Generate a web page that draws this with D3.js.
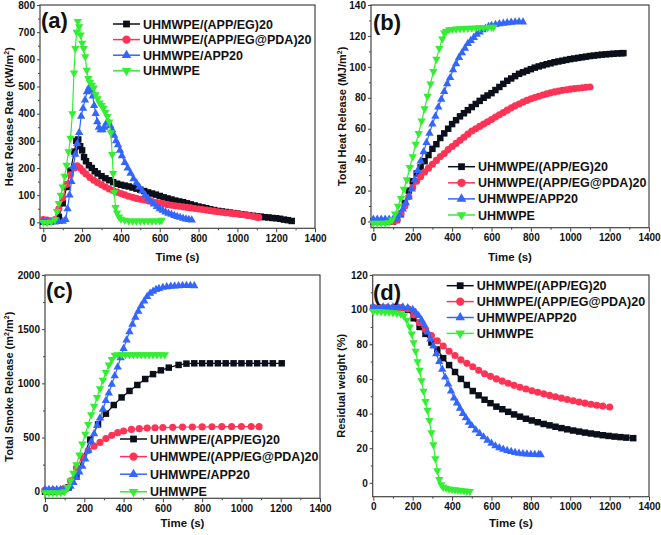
<!DOCTYPE html>
<html><head><meta charset="utf-8">
<script src="https://cdn.jsdelivr.net/npm/d3@7"></script>
<style>
body{margin:0;background:#fff}
text{font-family:"Liberation Sans",Arial,Helvetica,sans-serif;font-weight:bold;fill:#111}
</style>
</head><body>
<svg id="chart" width="661" height="535"></svg>
<script>
// ---------- labels ----------
const seriesNames = ["UHMWPE/(APP/EG)20","UHMWPE/(APP/EG@PDA)20","UHMWPE/APP20","UHMWPE"];
const seriesColors = ["#0b0f1a","#ff3355","#3366ff","#33ee33"];
const seriesSymbols = ["square","circle","triUp","triDown"];
const xTickLabels = [0,200,400,600,800,1000,1200,1400];
const xMinorTicks = [100,300,500,700,900,1100,1300];
const yTicksA = [0,100,200,300,400,500,600,700,800];
const yTicksB = [0,20,40,60,80,100,120,140];
const yTicksC = [0,500,1000,1500,2000];
const yTicksD = [0,20,40,60,80,100,120];

// ---------- (a) Heat release rate ----------
const hrrEG = [[0,3],[20,3],[40,4],[60,5],[80,20],[100,70],[120,130],[140,190],[160,260],[170,300],[180,305],[190,280],[200,265],[210,240],[220,225],[235,210],[250,200],[265,188],[280,180],[300,170],[320,162],[340,155],[360,148],[380,142],[400,138],[420,135],[440,132],[460,128],[480,124],[500,120],[520,115],[540,110],[560,106],[580,102],[600,97],[620,92],[640,88],[660,84],[680,80],[700,77],[720,74],[740,70],[760,66],[780,62],[800,58],[820,55],[840,52],[860,48],[880,45],[900,42],[920,40],[940,38],[960,36],[980,34],[1000,32],[1020,30],[1040,28],[1060,26],[1080,24],[1100,22],[1120,21],[1140,19],[1160,18],[1180,16],[1200,15],[1220,13],[1240,10],[1260,8],[1280,5]];
const hrrPDA = [[0,10],[20,8],[40,5],[60,10],[80,50],[100,90],[120,140],[140,175],[160,200],[175,208],[190,200],[205,188],[220,178],[240,165],[260,155],[280,146],[300,138],[320,130],[340,123],[360,117],[380,111],[400,106],[420,101],[440,96],[460,92],[480,88],[500,85],[520,82],[540,79],[560,76],[580,73],[600,71],[620,68],[640,65],[660,63],[680,61],[700,59],[720,57],[740,55],[760,53],[780,51],[800,49],[820,47],[840,45],[860,43],[880,41],[900,39],[920,37],[940,35],[960,34],[980,32],[1000,31],[1020,29],[1040,27],[1060,25],[1080,22],[1100,19],[1110,18]];
const hrrAPP = [[0,5],[20,3],[40,2],[60,2],[80,3],[100,4],[115,10],[125,50],[135,100],[145,150],[155,205],[165,250],[175,290],[185,330],[195,390],[205,420],[215,450],[225,480],[235,495],[245,485],[255,465],[262,430],[270,400],[278,370],[286,350],[295,340],[305,340],[315,350],[325,365],[335,370],[345,355],[355,340],[365,320],[375,300],[385,285],[395,265],[405,245],[420,220],[435,200],[450,180],[465,160],[480,145],[495,130],[510,115],[525,100],[540,88],[555,77],[570,67],[585,58],[600,50],[615,44],[630,38],[645,33],[660,29],[675,25],[690,21],[705,18],[720,15],[735,12],[750,10],[765,8]];
const hrrPE = [[0,0],[20,0],[40,2],[60,10],[70,40],[80,70],[90,100],[100,130],[110,170],[120,210],[130,260],[140,310],[150,400],[158,550],[165,640],[172,700],[178,740],[185,720],[192,690],[200,660],[208,640],[216,610],[224,560],[232,530],[240,515],[250,505],[260,495],[270,470],[280,455],[290,440],[300,430],[310,420],[320,405],[330,390],[340,370],[348,330],[355,250],[360,180],[366,110],[372,55],[380,35],[390,20],[400,12],[420,8],[440,5],[460,5],[480,5],[500,5],[520,5],[540,5],[560,5],[580,5],[600,5],[610,8]];

// ---------- (b) Total heat release ----------
const thrEG = [[0,0],[20,0],[40,0],[60,0],[80,0],[100,0],[120,1],[140,5],[160,12],[180,20],[200,26],[220,31],[240,35],[260,39],[280,43],[300,47],[320,50],[340,54],[360,57],[380,60],[400,63],[420,65.5],[440,68],[460,70],[480,72],[500,74],[520,76],[540,78],[560,80],[580,81.5],[600,83],[620,85],[640,87],[660,89],[680,91],[700,92.5],[720,94],[740,95.5],[760,96.5],[780,97.5],[800,98.5],[820,99.5],[840,100.3],[860,101],[880,101.7],[900,102.3],[920,103],[940,103.5],[960,104],[980,104.5],[1000,105],[1020,105.4],[1040,105.8],[1060,106.2],[1080,106.6],[1100,107],[1120,107.3],[1140,107.6],[1160,107.9],[1180,108.1],[1200,108.3],[1220,108.5],[1240,108.7],[1260,108.8],[1270,108.9]];
const thrPDA = [[0,0],[20,0],[40,0],[60,0],[80,0],[100,0],[120,1],[140,5],[160,10],[180,16],[200,22],[220,26],[240,29],[260,32],[280,34.5],[300,37],[320,39.5],[340,42],[360,44],[380,46.5],[400,48.5],[420,50.5],[440,52.5],[460,54.5],[480,56.5],[500,58.5],[520,60],[540,61.5],[560,63],[580,64.5],[600,66],[620,67.5],[640,69],[660,70.5],[680,72],[700,73.5],[720,74.8],[740,76],[760,77.2],[780,78.3],[800,79.3],[820,80.2],[840,81],[860,81.8],[880,82.5],[900,83.2],[920,83.8],[940,84.3],[960,84.8],[980,85.2],[1000,85.6],[1020,85.9],[1040,86.2],[1060,86.5],[1080,86.8],[1100,87]];
const thrAPP = [[0,1.5],[20,1.5],[40,1.5],[60,1.5],[80,1.5],[100,1.5],[120,2],[135,4],[150,8],[165,12],[180,16],[195,21],[210,27],[225,33],[240,39],[255,45],[270,51],[285,57],[300,63],[315,68],[330,74],[345,79],[360,84],[375,89],[390,93],[405,98],[420,102],[435,106],[450,109],[465,112],[480,115],[495,117],[510,119],[525,121],[540,122.5],[555,124],[570,125],[585,126],[600,126.7],[620,127.3],[640,127.8],[660,128.2],[680,128.5],[700,128.8],[720,129],[740,129.2],[760,129]];
const thrPE = [[0,-1],[20,-1],[40,-1],[60,-1],[80,-0.5],[95,1],[110,5],[125,10],[140,15],[155,21],[170,27],[185,35],[200,42],[215,50],[230,57],[245,65],[260,73],[275,81],[290,89],[305,97],[320,105],[335,112],[350,118],[360,122],[370,123],[385,124],[400,124.3],[420,124.5],[440,124.7],[460,124.9],[480,125],[500,125.1],[520,125.2],[540,125.3],[560,125.4],[580,125.5],[600,125.6],[610,125.6]];

// ---------- (c) Total smoke release ----------
const tsrEG = [[0,0],[40,0],[80,5],[120,40],[160,150],[195,320],[230,480],[270,620],[310,720],[350,800],[390,870],[430,930],[470,985],[510,1040],[550,1085],[590,1120],[630,1145],[680,1170],[720,1182],[760,1185],[800,1185],[840,1185],[880,1185],[920,1185],[960,1185],[1000,1185],[1040,1185],[1080,1185],[1120,1185],[1160,1185],[1205,1185]];
const tsrPDA = [[0,15],[40,15],[80,15],[100,30],[130,100],[160,220],[190,320],[220,380],[250,420],[280,455],[310,490],[340,520],[370,545],[400,560],[440,575],[480,582],[520,587],[560,590],[600,592],[650,594],[700,596],[750,597],[800,598],[850,599],[900,600],[950,600],[1000,601],[1050,601],[1090,600]];
const tsrAPP = [[0,20],[20,20],[40,20],[60,20],[80,20],[100,22],[115,30],[130,50],[145,85],[160,130],[175,180],[190,235],[205,300],[220,380],[235,460],[250,535],[265,610],[280,680],[295,760],[310,840],[325,910],[340,990],[355,1070],[370,1150],[385,1235],[400,1320],[415,1400],[430,1475],[445,1545],[460,1610],[475,1665],[490,1715],[505,1760],[520,1800],[535,1830],[550,1850],[565,1865],[580,1875],[600,1885],[620,1890],[640,1895],[660,1898],[680,1900],[700,1902],[720,1903],[740,1902],[760,1900]];
const tsrPE = [[0,-10],[20,-10],[40,-10],[60,-10],[80,-8],[100,0],[115,40],[130,100],[145,170],[160,250],[175,340],[190,440],[205,530],[220,620],[235,710],[250,790],[265,870],[280,950],[295,1030],[310,1100],[325,1170],[340,1220],[355,1260],[370,1265],[390,1265],[410,1265],[430,1265],[450,1265],[470,1265],[490,1265],[510,1265],[530,1265],[550,1265],[570,1265],[590,1265],[610,1265]];

// ---------- (d) Residual weight ----------
const rwEG = [[0,101],[35,101],[70,101],[105,101],[140,101],[175,100],[205,95],[235,90],[265,86],[295,81],[325,77],[355,72],[385,68],[415,64],[445,60],[475,56.5],[505,53],[535,50.5],[565,48],[595,46],[625,44],[655,42.5],[685,41],[715,39.5],[745,38.2],[775,37],[805,36],[835,35],[865,34],[895,33.2],[925,32.4],[955,31.6],[985,30.9],[1015,30.2],[1045,29.6],[1075,29],[1105,28.5],[1135,28],[1165,27.5],[1195,27.1],[1225,26.7],[1255,26.4],[1285,26.1],[1320,25.8]];
const rwPDA = [[0,101],[35,101],[70,101],[105,101],[140,101],[175,100.5],[205,97],[235,92.5],[265,88.5],[295,85],[325,82],[355,79],[385,76],[415,73.5],[445,71],[475,69],[505,67],[535,65],[565,63],[595,61.5],[625,60],[655,58.7],[685,57.5],[715,56.3],[745,55.2],[775,54.2],[805,53.2],[835,52.3],[865,51.4],[895,50.5],[925,49.7],[955,48.9],[985,48.1],[1015,47.4],[1045,46.7],[1075,46],[1105,45.4],[1135,44.8],[1165,44.3],[1200,43.8]];
const rwAPP = [[0,101.5],[25,101.5],[50,101.5],[75,101.5],[100,101.5],[125,101.5],[150,101.5],[175,101],[200,100],[215,98.5],[230,96.5],[245,94],[260,91],[275,87],[290,83],[305,79],[320,74.5],[335,70],[350,65.5],[365,61],[380,57],[395,53],[410,49],[425,46],[440,43],[455,40],[470,37.5],[485,35],[500,33],[520,30.5],[540,28.5],[560,26.5],[580,24.5],[600,22.8],[620,21.3],[640,20.2],[660,19.3],[680,18.6],[700,18],[720,17.5],[740,17.1],[760,16.8],[780,16.6],[800,16.4],[820,16.3],[840,16.3],[850,16.2]];
const rwPE = [[0,99],[20,99],[40,98.8],[60,98.6],[80,98.5],[100,98.3],[120,98],[140,97.5],[155,96.5],[170,94],[185,90],[195,86],[205,81],[215,76],[225,70],[235,65],[245,59],[255,53],[265,47],[275,42],[285,36],[295,29],[305,22],[315,14],[325,7],[335,2],[345,-1],[355,-2.5],[370,-3],[385,-3.5],[400,-3.8],[415,-4],[430,-4.2],[445,-4.4],[460,-4.6],[475,-4.8],[490,-5]];

// ---------- drawing ----------
const svg = d3.select("#chart");

function symbolPath(kind, size) {
  if (kind === "square") return d3.symbol(d3.symbolSquare, size)();
  if (kind === "circle") return d3.symbol(d3.symbolCircle, size)();
  return d3.symbol(d3.symbolTriangle, size)();
}

function styleAxis(sel) {
  sel.select(".domain").remove();
  sel.selectAll(".tick line").attr("stroke", "#444").attr("stroke-width", 1);
  sel.selectAll(".tick text").attr("font-size", 10).attr("fill", "#111")
     .attr("font-family", '"Liberation Sans",Arial,sans-serif').attr("font-weight", "bold");
}

function panel(cfg) {
  const x = d3.scaleLinear().domain(cfg.xd).range(cfg.xr);
  const y = d3.scaleLinear().domain(cfg.yd).range(cfg.yr);
  const g = svg.append("g");
  const yMinor = [];
  for (let i = 0; i < cfg.yTicks.length - 1; i++) yMinor.push((cfg.yTicks[i] + cfg.yTicks[i + 1]) / 2);
  const fmt = d3.format("d");

  g.append("g").attr("transform", `translate(0,${cfg.yr[0]})`)
    .call(d3.axisBottom(x).tickValues(xTickLabels).tickFormat(fmt).tickSize(4).tickPadding(2.5)).call(styleAxis);
  g.append("g").attr("transform", `translate(0,${cfg.yr[0]})`)
    .call(d3.axisBottom(x).tickValues(xMinorTicks).tickSize(2).tickFormat("")).call(styleAxis);
  g.append("g").attr("transform", `translate(${cfg.xr[0]},0)`)
    .call(d3.axisLeft(y).tickValues(cfg.yTicks).tickFormat(fmt).tickSize(3).tickPadding(2)).call(styleAxis);
  g.append("g").attr("transform", `translate(${cfg.xr[0]},0)`)
    .call(d3.axisLeft(y).tickValues(yMinor).tickSize(2).tickFormat("")).call(styleAxis);

  g.append("rect").attr("x", cfg.xr[0]).attr("y", cfg.yr[1])
    .attr("width", cfg.xr[1] - cfg.xr[0]).attr("height", cfg.yr[0] - cfg.yr[1])
    .attr("fill", "none").attr("stroke", "#444").attr("stroke-width", 1.2);

  const line = d3.line().x(d => x(d[0])).y(d => y(d[1]));
  cfg.series.forEach((data, i) => {
    const col = seriesColors[i];
    g.append("path").datum(data).attr("d", line).attr("fill", "none").attr("stroke", col).attr("stroke-width", 1.2);
    const sizes = [42, 40, 30, 30];
    g.selectAll(null).data(data).join("path")
      .attr("d", symbolPath(seriesSymbols[i], sizes[i]))
      .attr("transform", d => `translate(${x(d[0])},${y(d[1])})` + (seriesSymbols[i] === "triDown" ? " rotate(180)" : ""))
      .attr("fill", col);
  });

  // legend
  const L = cfg.legend;
  seriesNames.forEach((name, i) => {
    const yy = L.y + i * L.dy;
    const col = seriesColors[i];
    g.append("line").attr("x1", L.x).attr("x2", L.x + 27).attr("y1", yy).attr("y2", yy)
      .attr("stroke", col).attr("stroke-width", 1.5);
    const lsz = [46, 54, 40, 40];
    g.append("path").attr("d", symbolPath(seriesSymbols[i], lsz[i]))
      .attr("transform", `translate(${L.x + 13.5},${yy})` + (seriesSymbols[i] === "triDown" ? " rotate(180)" : ""))
      .attr("fill", col);
    g.append("text").attr("x", L.x + 30).attr("y", yy + 4.5).attr("font-size", 12.5).text(name);
  });

  // panel label
  g.append("text").attr("x", cfg.label.x).attr("y", cfg.label.y).attr("font-size", 22).text(cfg.label.t);

  // x title
  g.append("text").attr("x", (cfg.xr[0] + cfg.xr[1]) / 2).attr("y", cfg.xTitleY)
    .attr("text-anchor", "middle").attr("font-size", 11.5).text("Time (s)");

  // y title
  const yc = (cfg.yr[0] + cfg.yr[1]) / 2;
  const t = g.append("text").attr("transform", `translate(${cfg.yTitleX},${yc}) rotate(-90)`)
    .attr("text-anchor", "middle").attr("font-size", 11);
  cfg.yTitle.forEach(part => {
    if (part.sup) t.append("tspan").attr("font-size", 7).attr("dy", -4).text(part.s);
    else t.append("tspan").attr("dy", part.after ? 4 : 0).text(part.s);
  });
}

panel({
  xd: [-17, 1400], xr: [40, 315], yd: [-22, 800], yr: [228.3, 5],
  yTicks: yTicksA, series: [hrrEG, hrrPDA, hrrAPP, hrrPE],
  legend: { x: 113, y: 24, dy: 15.6 },
  label: { x: 41, y: 28, t: "(a)" },
  xTitleY: 261, yTitleX: 12.5,
  yTitle: [{ s: "Heat Release Rate (kW/m" }, { s: "2", sup: true }, { s: ")", after: true }]
});
panel({
  xd: [-12, 1400], xr: [371, 649], yd: [-4, 140], yr: [227.7, 5],
  yTicks: yTicksB, series: [thrEG, thrPDA, thrAPP, thrPE],
  legend: { x: 448, y: 166.7, dy: 16.1 },
  label: { x: 373, y: 30, t: "(b)" },
  xTitleY: 261, yTitleX: 345.5,
  yTitle: [{ s: "Total Heat Release (MJ/m" }, { s: "2", sup: true }, { s: ")", after: true }]
});
panel({
  xd: [0, 1400], xr: [45, 320], yd: [-61, 2000], yr: [498.3, 275],
  yTicks: yTicksC, series: [tsrEG, tsrPDA, tsrAPP, tsrPE],
  legend: { x: 120, y: 439, dy: 17.6 },
  label: { x: 46, y: 298, t: "(c)" },
  xTitleY: 527, yTitleX: 12.5,
  yTitle: [{ s: "Total Smoke Release (m" }, { s: "2", sup: true }, { s: "/m", after: true }, { s: "2", sup: true }, { s: ")", after: true }]
});
panel({
  xd: [-3, 1400], xr: [372.7, 649], yd: [-8, 120], yr: [496.7, 275],
  yTicks: yTicksD, series: [rwEG, rwPDA, rwAPP, rwPE],
  legend: { x: 446.7, y: 285.7, dy: 15.9 },
  label: { x: 373, y: 300, t: "(d)" },
  xTitleY: 527, yTitleX: 345,
  yTitle: [{ s: "Residual weight (%)" }]
});
</script>
</body></html>
